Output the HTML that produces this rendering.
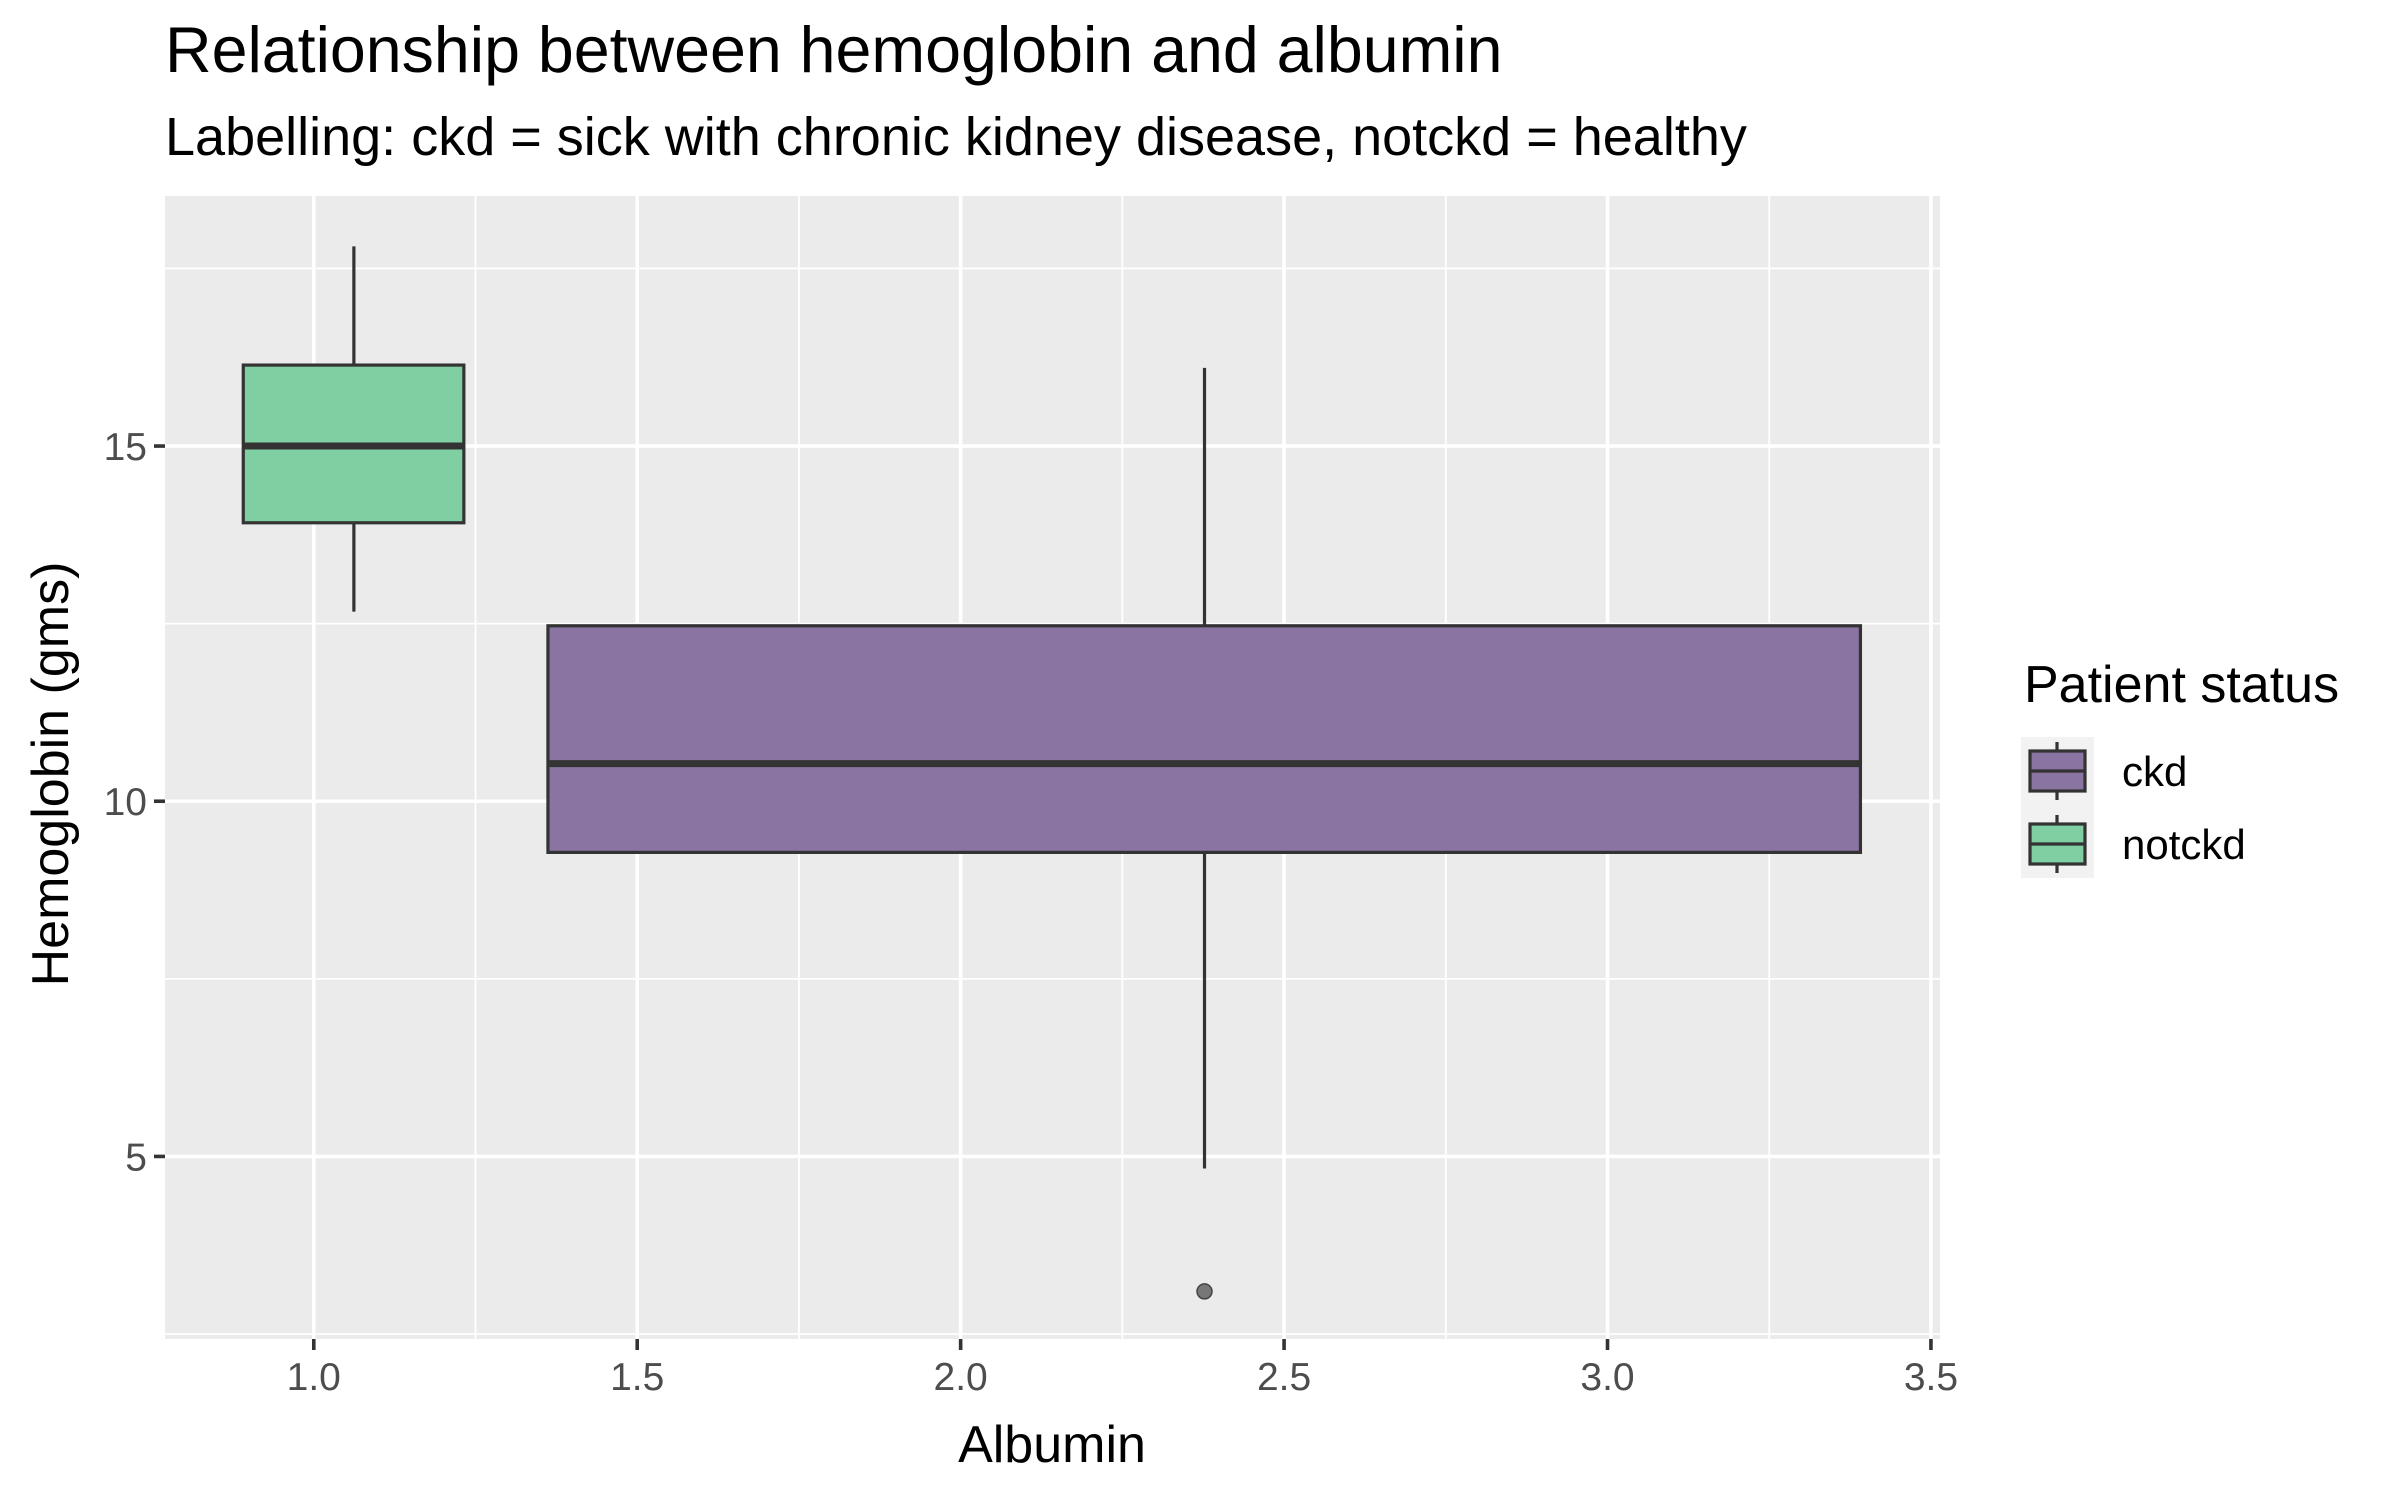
<!DOCTYPE html>
<html><head><meta charset="utf-8">
<style>
html,body{margin:0;padding:0;background:#fff;}
svg{display:block;font-family:"Liberation Sans",sans-serif;}
</style></head>
<body>
<svg id="chart" width="2400" height="1500" viewBox="0 0 2400 1500">
<text x="165" y="72" font-size="64.5" fill="#000">Relationship between hemoglobin and albumin</text>
<text x="165" y="155" font-size="54" fill="#000">Labelling: ckd = sick with chronic kidney disease, notckd = healthy</text>
<text x="1052" y="1462" font-size="52" text-anchor="middle" fill="#000">Albumin</text>
<text transform="translate(68,774) rotate(-90)" font-size="52" text-anchor="middle" fill="#000">Hemoglobin (gms)</text>
<g id="plot"></g>
<g id="legend">
<text x="2024" y="702" font-size="52" fill="#000">Patient status</text>
</g>
</svg>
<script>
const groups = ["ckd", "notckd"];
const xCenters = [2.377, 1.062];
const xMins = [1.362, 0.891];
const xMaxs = [3.391, 1.232];
const whiskerLow = [4.83, 12.67];
const q1 = [9.28, 13.92];
const medians = [10.53, 15.0];
const q3 = [12.47, 16.14];
const whiskerHigh = [16.1, 17.81];
const outlierX = [2.377];
const outlierY = [3.1];
const fills = ["#8a74a2", "#7fcfa3"];
const xTicks = [1.0, 1.5, 2.0, 2.5, 3.0, 3.5];
const xTickLabels = ["1.0", "1.5", "2.0", "2.5", "3.0", "3.5"];
const xMinor = [1.25, 1.75, 2.25, 2.75, 3.25];
const yTicks = [5, 10, 15];
const yTickLabels = ["5", "10", "15"];
const yMinor = [2.5, 7.5, 12.5, 17.5];

const NS = "http://www.w3.org/2000/svg";
const L = 165, R = 1940, T = 196, B = 1339;
const X0 = 0.770, X1 = 3.514, Y0 = 2.43, Y1 = 18.52;
const sx = v => L + (v - X0) / (X1 - X0) * (R - L);
const sy = v => B - (v - Y0) / (Y1 - Y0) * (B - T);
const plot = document.getElementById("plot");
function mk(tag, attrs, parent) {
  const e = document.createElementNS(NS, tag);
  for (const k in attrs) e.setAttribute(k, attrs[k]);
  (parent || plot).appendChild(e);
  return e;
}
const bg = mk("rect", {x: L, y: T, width: R - L, height: B - T, fill: "#ebebeb"});


xMinor.forEach(v => {
  const g = mk("line", {x1: sx(v), x2: sx(v), y1: T, y2: B, stroke: "#fff", "stroke-width": 1.8});
  
  
});
yMinor.forEach(v => {
  const g = mk("line", {x1: L, x2: R, y1: sy(v), y2: sy(v), stroke: "#fff", "stroke-width": 1.8});
  
  
});
xTicks.forEach((v, i) => {
  const g = mk("line", {x1: sx(v), x2: sx(v), y1: T, y2: B, stroke: "#fff", "stroke-width": 3.6});
  
  
  const t = mk("line", {x1: sx(v), x2: sx(v), y1: B, y2: B + 11, stroke: "#333", "stroke-width": 3.6});
  
  
  const lb = mk("text", {x: sx(v), y: B + 51, "font-size": 39, fill: "#4d4d4d", "text-anchor": "middle"});
  lb.textContent = xTickLabels[i];
  
  
});
yTicks.forEach((v, i) => {
  const g = mk("line", {x1: L, x2: R, y1: sy(v), y2: sy(v), stroke: "#fff", "stroke-width": 3.6});
  
  
  const t = mk("line", {x1: L - 11, x2: L, y1: sy(v), y2: sy(v), stroke: "#333", "stroke-width": 3.6});
  
  
  const lb = mk("text", {x: L - 18, y: sy(v) + 14, "font-size": 39, fill: "#4d4d4d", "text-anchor": "end"});
  lb.textContent = yTickLabels[i];
  
  
});
groups.forEach((g, i) => {
  const grp = mk("g", {});
  
  
  const cx = sx(xCenters[i]);
  mk("line", {x1: cx, x2: cx, y1: sy(q3[i]), y2: sy(whiskerHigh[i]), stroke: "#333", "stroke-width": 3.2}, grp);
  mk("line", {x1: cx, x2: cx, y1: sy(q1[i]), y2: sy(whiskerLow[i]), stroke: "#333", "stroke-width": 3.2}, grp);
  mk("rect", {x: sx(xMins[i]), y: sy(q3[i]), width: sx(xMaxs[i]) - sx(xMins[i]), height: sy(q1[i]) - sy(q3[i]), fill: fills[i], stroke: "#333", "stroke-width": 3.2}, grp);
  mk("line", {x1: sx(xMins[i]), x2: sx(xMaxs[i]), y1: sy(medians[i]), y2: sy(medians[i]), stroke: "#333", "stroke-width": 7}, grp);
});
outlierX.forEach((v, i) => {
  const c = mk("circle", {cx: sx(v), cy: sy(outlierY[i]), r: 7.5, fill: "#777", stroke: "#444", "stroke-width": 1.5});
  
  
});
const leg = document.getElementById("legend");
const kbg = mk("rect", {x: 2021, y: 737, width: 73, height: 141, fill: "#f2f2f2"}, leg);


groups.forEach((g, i) => {
  const cy = 771 + i * 73;
  const e = mk("g", {}, leg);
  
  
  mk("line", {x1: 2057, x2: 2057, y1: cy - 29, y2: cy + 29, stroke: "#333", "stroke-width": 3.2}, e);
  mk("rect", {x: 2030, y: cy - 20, width: 55, height: 40, fill: fills[i], stroke: "#333", "stroke-width": 3.2}, e);
  mk("line", {x1: 2030, x2: 2085, y1: cy, y2: cy, stroke: "#333", "stroke-width": 3.2}, e);
  const t = mk("text", {x: 2122, y: cy + 15, "font-size": 42, fill: "#000"}, e);
  t.textContent = g;
});
</script>
</body></html>
